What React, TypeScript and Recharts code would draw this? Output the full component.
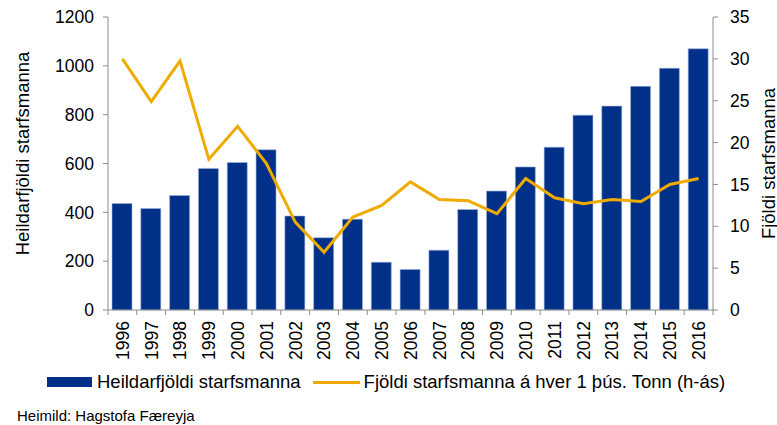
import React from "react";
import { ComposedChart, Bar, Line, XAxis, YAxis } from "recharts";

const years = ["1996","1997","1998","1999","2000","2001","2002","2003","2004","2005","2006","2007","2008","2009","2010","2011","2012","2013","2014","2015","2016"];
const totalEmployees = [436,416,469,580,604,656,385,296,372,196,166,245,412,487,586,667,798,835,916,990,1070];
const perThousandTonnes = [30.0,24.9,29.75,18.0,21.95,17.5,10.5,6.9,11.1,12.5,15.3,13.2,13.05,11.5,15.7,13.4,12.7,13.2,12.95,15.0,15.7];
const leftTicks = [0,200,400,600,800,1000,1200];
const rightTicks = [0,5,10,15,20,25,30,35];

const data = years.map((y, i) => ({ year: y, total: totalEmployees[i], ratio: perThousandTonnes[i] }));

const FONT = "'Liberation Sans', Arial, sans-serif";
const AXIS = "#8c8c8c";
const BAR = "#003087";
const LINE = "#F0AB00";
const TICK_FS = 17.5;
const LABEL_FS = 18.5;

const PLOT_LEFT = 108;
const PLOT_RIGHT = 713;
const BAND = (PLOT_RIGHT - PLOT_LEFT) / years.length;

const XTick = (props: any) => {
  const { x, y, payload, index } = props;
  const left = x - BAND / 2;
  const right = x + BAND / 2;
  return (
    <g>
      <line x1={left} y1={y} x2={left} y2={y + 5} stroke={AXIS} strokeWidth={1} />
      {index === years.length - 1 && (
        <line x1={right} y1={y} x2={right} y2={y + 5} stroke={AXIS} strokeWidth={1} />
      )}
      <g transform={`translate(${x},${y})`}>
        <text
          transform="rotate(-90)"
          x={-11}
          y={0}
          dy="0.36em"
          textAnchor="end"
          fontFamily={FONT}
          fontSize={TICK_FS}
          fill="#000"
        >
          {payload.value}
        </text>
      </g>
    </g>
  );
};

const LeftLabel = (props: any) => {
  const vb = props.viewBox || {};
  const cx = 22;
  const cy = vb.y + vb.height / 2 - 10;
  return (
    <text
      x={cx}
      y={cy}
      transform={`rotate(-90 ${cx} ${cy})`}
      textAnchor="middle"
      dominantBaseline="central"
      fontFamily={FONT}
      fontSize={LABEL_FS}
      fill="#000"
    >
      Heildarfjöldi starfsmanna
    </text>
  );
};

const RightLabel = (props: any) => {
  const vb = props.viewBox || {};
  const cx = 768;
  const cy = vb.y + vb.height / 2;
  return (
    <text
      x={cx}
      y={cy}
      transform={`rotate(-90 ${cx} ${cy})`}
      textAnchor="middle"
      dominantBaseline="central"
      fontFamily={FONT}
      fontSize={LABEL_FS}
      fill="#000"
    >
      Fjöldi starfsmanna
    </text>
  );
};

export default function App() {
  return (
    <div style={{ position: "absolute", left: 0, top: 0, width: 777, height: 425, background: "#fff", fontFamily: FONT }}>
      <ComposedChart
        width={777}
        height={425}
        data={data}
        margin={{ top: 17, right: 0, bottom: 55, left: 0 }}
      >
        <XAxis
          dataKey="year"
          axisLine={{ stroke: AXIS }}
          tickLine={false}
          tickSize={0}
          tickMargin={0}
          interval={0}
          tick={<XTick />}
          height={60}
        />
        <YAxis
          yAxisId="left"
          orientation="left"
          width={108}
          domain={[0, 1200]}
          ticks={leftTicks}
          interval={0}
          axisLine={{ stroke: AXIS }}
          tickLine={{ stroke: AXIS }}
          tickSize={5}
          tickMargin={9}
          tick={{ fontFamily: FONT, fontSize: TICK_FS, fill: "#000" }}
          label={<LeftLabel />}
        />
        <YAxis
          yAxisId="right"
          orientation="right"
          width={64}
          domain={[0, 35]}
          ticks={rightTicks}
          interval={0}
          axisLine={{ stroke: AXIS }}
          tickLine={{ stroke: AXIS }}
          tickSize={5}
          tickMargin={12}
          tick={{ fontFamily: FONT, fontSize: TICK_FS, fill: "#000" }}
          label={<RightLabel />}
        />
        <Bar
          yAxisId="left"
          dataKey="total"
          fill={BAR}
          stroke="#9fb2de"
          strokeWidth={0.6}
          barSize={20}
          isAnimationActive={false}
        />
        <Line
          yAxisId="right"
          dataKey="ratio"
          type="linear"
          stroke={LINE}
          strokeWidth={3}
          dot={false}
          activeDot={false}
          isAnimationActive={false}
        />
      </ComposedChart>
      <div style={{ position: "absolute", left: 47, top: 370, height: 24, display: "flex", alignItems: "center", fontSize: LABEL_FS, color: "#000", whiteSpace: "nowrap" }}>
        <span style={{ display: "inline-block", width: 45, height: 10, background: BAR, marginRight: 5 }} />
        <span>Heildarfjöldi starfsmanna</span>
        <span style={{ display: "inline-block", width: 47, height: 3, background: LINE, marginLeft: 12, marginRight: 4 }} />
        <span>Fjöldi starfsmanna á hver 1 þús. Tonn (h-ás)</span>
      </div>
      <div style={{ position: "absolute", left: 17, top: 406, fontSize: 15, lineHeight: "20px", color: "#000", whiteSpace: "nowrap" }}>
        Heimild: Hagstofa Færeyja
      </div>
    </div>
  );
}
